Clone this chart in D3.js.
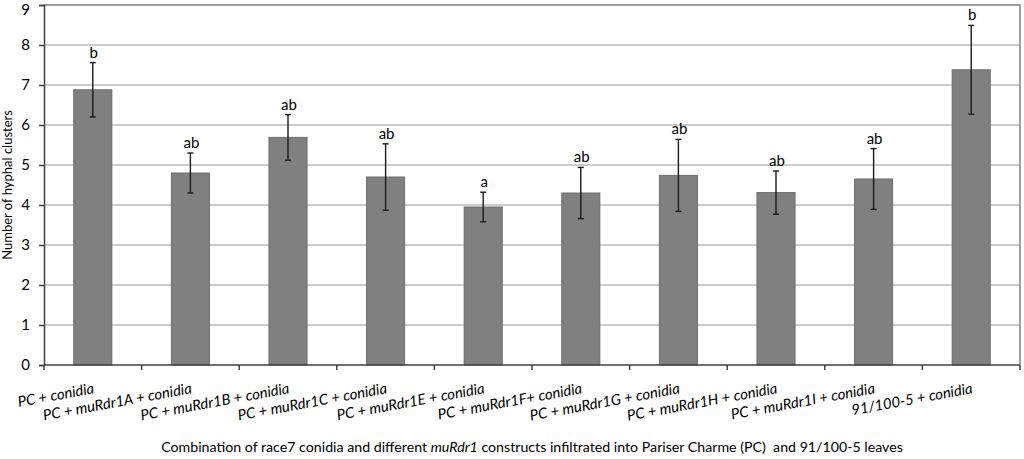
<!DOCTYPE html>
<html>
<head>
<meta charset="utf-8">
<script src="https://cdn.jsdelivr.net/npm/d3@7"></script>
<style>
  body { margin: 0; background: #fff; }
  svg text { font-family: Lato, "Open Sans", sans-serif; fill: #000; }
</style>
</head>
<body>
<svg id="chart"></svg>
<script>
// categories (x axis), with the construct part kept apart so it can be italic
var prefixes = ["PC + ", "PC + ", "PC + ", "PC + ", "PC + ", "PC + ", "PC + ", "PC + ", "PC + ", ""];
var constructs = ["", "muRdr1A + ", "muRdr1B + ", "muRdr1C + ", "muRdr1E + ", "muRdr1F+ ", "muRdr1G + ", "muRdr1H + ", "muRdr1I + ", "91/100-5 + "];
var means = [6.88, 4.80, 5.69, 4.70, 3.95, 4.30, 4.74, 4.31, 4.65, 7.38];
var errors = [0.68, 0.50, 0.57, 0.83, 0.37, 0.64, 0.90, 0.54, 0.76, 1.11];
var letters = ["b", "ab", "ab", "ab", "a", "ab", "ab", "ab", "ab", "b"];
var yTicks = [0, 1, 2, 3, 4, 5, 6, 7, 8, 9];

document.addEventListener('DOMContentLoaded', function () {
	var W = 1024, H = 459;
	var margin = { top: 5, right: 4, bottom: 94, left: 44 },
		width = W - margin.left - margin.right,
		height = H - margin.top - margin.bottom;

	var svg = d3.select("#chart")
		.attr("width", W)
		.attr("height", H);

	var g = svg.append("g")
		.attr("transform", "translate(" + margin.left + "," + margin.top + ")");

	var idx = d3.range(means.length);

	var x = d3.scaleBand()
		.domain(idx)
		.range([0, width])
		.paddingInner(0)
		.paddingOuter(0);

	var y = d3.scaleLinear()
		.domain([0, 9])
		.range([height, 0]);

	// gridlines
	g.append("g").selectAll("line")
		.data(yTicks.filter(function (d) { return d > 0; }))
		.enter().append("line")
		.attr("x1", 0)
		.attr("x2", width)
		.attr("y1", function (d) { return y(d); })
		.attr("y2", function (d) { return y(d); })
		.attr("stroke", "#bdbdbd")
		.attr("stroke-width", 1.6);

	// plot area border (top + right)
	g.append("path")
		.attr("d", "M0," + y(9) + "H" + width + "V" + height)
		.attr("fill", "none")
		.attr("stroke", "#8c8c8c")
		.attr("stroke-width", 1.6);

	// bars
	var barW = x.bandwidth() * 0.39;
	g.append("g").selectAll("rect")
		.data(idx)
		.enter().append("rect")
		.attr("x", function (i) { return x(i) + (x.bandwidth() - barW) / 2; })
		.attr("y", function (i) { return y(means[i]); })
		.attr("width", barW)
		.attr("height", function (i) { return height - y(means[i]); })
		.attr("fill", "#808080")
		.attr("stroke", "#6e6e6e")
		.attr("stroke-width", 1);

	// error bars
	var eb = g.append("g").selectAll("g")
		.data(idx)
		.enter().append("g")
		.attr("stroke", "#1a1a1a")
		.attr("stroke-width", 1.4);
	var cx = function (i) { return x(i) + x.bandwidth() / 2; };
	eb.append("line")
		.attr("x1", cx).attr("x2", cx)
		.attr("y1", function (i) { return y(means[i] + errors[i]); })
		.attr("y2", function (i) { return y(means[i] - errors[i]); });
	eb.append("line")
		.attr("x1", function (i) { return cx(i) - 3; })
		.attr("x2", function (i) { return cx(i) + 3; })
		.attr("y1", function (i) { return y(means[i] + errors[i]); })
		.attr("y2", function (i) { return y(means[i] + errors[i]); });
	eb.append("line")
		.attr("x1", function (i) { return cx(i) - 3; })
		.attr("x2", function (i) { return cx(i) + 3; })
		.attr("y1", function (i) { return y(means[i] - errors[i]); })
		.attr("y2", function (i) { return y(means[i] - errors[i]); });

	// significance letters
	g.append("g").selectAll("text")
		.data(idx)
		.enter().append("text")
		.attr("x", function (i) { return cx(i) + 1; })
		.attr("y", function (i) { return y(means[i] + errors[i]) - 5; })
		.attr("text-anchor", "middle")
		.style("font-size", "15px")
		.text(function (i) { return letters[i]; });

	// y axis
	var yAxis = g.append("g")
		.call(d3.axisLeft(y).tickValues(yTicks).tickSize(5).tickPadding(9));
	yAxis.select(".domain").attr("stroke", "#404040").attr("stroke-width", 1.5);
	yAxis.selectAll(".tick line").attr("stroke", "#404040").attr("stroke-width", 1.5);
	yAxis.selectAll(".tick text")
		.style("font-size", "15px")
		.style("font-family", "Lato, sans-serif")
		.attr("fill", "#000");
	// keep the top label inside the picture
	yAxis.selectAll(".tick text")
		.filter(function (d) { return d === 9; })
		.attr("y", 5);

	// x axis with ticks at category boundaries
	var boundaries = d3.range(means.length + 1).map(function (k) { return k * x.step(); });
	var xa = g.append("g").attr("transform", "translate(0," + height + ")");
	xa.append("line")
		.attr("x1", 0).attr("x2", width)
		.attr("stroke", "#404040").attr("stroke-width", 1.5);
	xa.selectAll(".bt")
		.data(boundaries)
		.enter().append("line")
		.attr("class", "bt")
		.attr("x1", function (d) { return d; })
		.attr("x2", function (d) { return d; })
		.attr("y1", 0).attr("y2", 5)
		.attr("stroke", "#404040").attr("stroke-width", 1.5);

	// rotated category labels, right end under the band centre
	var lbl = xa.selectAll(".cl")
		.data(idx)
		.enter().append("text")
		.attr("class", "cl")
		.attr("text-anchor", "end")
		.attr("transform", function (i) { return "translate(" + (cx(i) + 2) + ",28) rotate(-10.5)"; })
		.style("font-size", "14.8px")
		.style("font-style", "italic");
	lbl.append("tspan").text(function (i) { return prefixes[i]; });
	lbl.append("tspan").text(function (i) { return constructs[i]; });
	lbl.append("tspan").text("conidia");

	// x title
	var xt = svg.append("text")
		.attr("x", margin.left + width / 2)
		.attr("y", 452)
		.attr("text-anchor", "middle")
		.style("font-size", "14.2px")
		.attr("xml:space", "preserve");
	xt.append("tspan").text("Combination of race7 conidia and different ");
	xt.append("tspan").style("font-style", "italic").text("muRdr1");
	xt.append("tspan").text(" constructs infiltrated into Pariser Charme (PC)  and 91/100-5 leaves");

	// y title
	svg.append("text")
		.attr("transform", "translate(12," + (margin.top + height / 2) + ") rotate(-90)")
		.attr("text-anchor", "middle")
		.style("font-size", "13px")
		.text("Number of hyphal clusters");
});
</script>
</body>
</html>
